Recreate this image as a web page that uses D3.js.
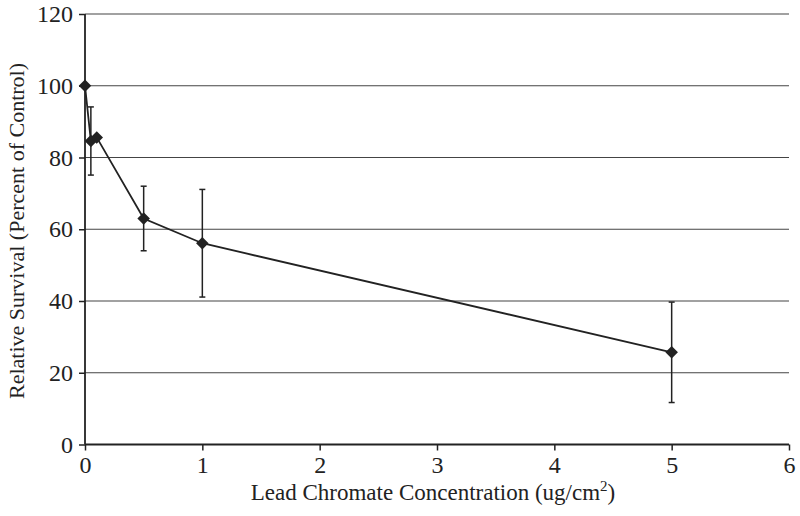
<!DOCTYPE html>
<html><head><meta charset="utf-8">
<script src="https://cdn.jsdelivr.net/npm/d3@7"></script>
<style>body{margin:0;background:#fff}svg{display:block}text{font-family:"Liberation Serif","Times New Roman",serif;fill:#222}</style>
</head><body>
<svg id="c" width="800" height="516"></svg>
<script>
const concentrations = [0, 0.05, 0.1, 0.5, 1, 5];
const survival = [100, 84.6, 85.6, 63.0, 56.1, 25.7];
const errors = [0, 9.5, 0, 9, 15, 14];
const xTicks = [0, 1, 2, 3, 4, 5, 6];
const yTicks = [0, 20, 40, 60, 80, 100, 120];

const svg = d3.select("#c");
const x = d3.scaleLinear().domain([0, 6]).range([85, 789]);
const y = d3.scaleLinear().domain([0, 120]).range([444.5, 14]);
const col = "#222";

// gridlines
svg.append("g").selectAll("line").data(yTicks.filter(d => d > 0)).join("line")
  .attr("x1", x(0)).attr("x2", x(6)).attr("y1", d => y(d)).attr("y2", d => y(d))
  .attr("stroke", "#444").attr("stroke-width", 1.2);

// axes
const ya = svg.append("g").attr("transform", `translate(${x(0)},0)`)
  .call(d3.axisLeft(y).tickValues(yTicks).tickSize(6).tickPadding(6).tickFormat(d3.format("d")));
const xa = svg.append("g").attr("transform", `translate(0,${y(0)})`)
  .call(d3.axisBottom(x).tickValues(xTicks).tickSize(6).tickPadding(5).tickFormat(d3.format("d")));
[ya, xa].forEach(g => {
  g.select(".domain").attr("stroke", col).attr("stroke-width", 1.8);
  g.selectAll(".tick line").attr("stroke", col).attr("stroke-width", 1.5);
  g.selectAll(".tick text").attr("font-size", 24).attr("font-family", "Liberation Serif").attr("fill", col);
});
xa.select(".domain").attr("d", `M${x(0)},0H${x(6)}`);
ya.select(".domain").attr("d", `M0,${y(0)}V${y(120)}`);

const pts = concentrations.map((c, i) => ({c, v: survival[i], e: errors[i]}));

// error bars
const eb = svg.append("g").selectAll("g").data(pts.filter(p => p.e > 0)).join("g");
eb.append("line").attr("x1", p => x(p.c)).attr("x2", p => x(p.c))
  .attr("y1", p => y(p.v + p.e)).attr("y2", p => y(p.v - p.e)).attr("stroke", col).attr("stroke-width", 1.5);
[1, -1].forEach(s => {
  eb.append("line").attr("x1", p => x(p.c) - 3).attr("x2", p => x(p.c) + 3)
    .attr("y1", p => y(p.v + s * p.e)).attr("y2", p => y(p.v + s * p.e)).attr("stroke", col).attr("stroke-width", 1.5);
});

// line
svg.append("path").datum(pts)
  .attr("d", d3.line().x(p => x(p.c)).y(p => y(p.v)))
  .attr("fill", "none").attr("stroke", col).attr("stroke-width", 1.8);

// markers
svg.append("g").selectAll("path").data(pts).join("path")
  .attr("transform", p => `translate(${x(p.c)},${y(p.v)})`)
  .attr("d", d3.symbol(d3.symbolDiamond2, 100)())
  .attr("fill", col);

// titles
svg.append("text").attr("transform", `translate(24,231) rotate(-90)`)
  .attr("text-anchor", "middle").attr("font-size", 22).text("Relative Survival (Percent of Control)");
const xt = svg.append("text").attr("x", 433).attr("y", 500).attr("text-anchor", "middle").attr("font-size", 23);
xt.append("tspan").text("Lead Chromate Concentration (ug/cm");
xt.append("tspan").attr("font-size", 15).attr("dy", -9).text("2");
xt.append("tspan").attr("dy", 9).text(")");
</script>
</body></html>
